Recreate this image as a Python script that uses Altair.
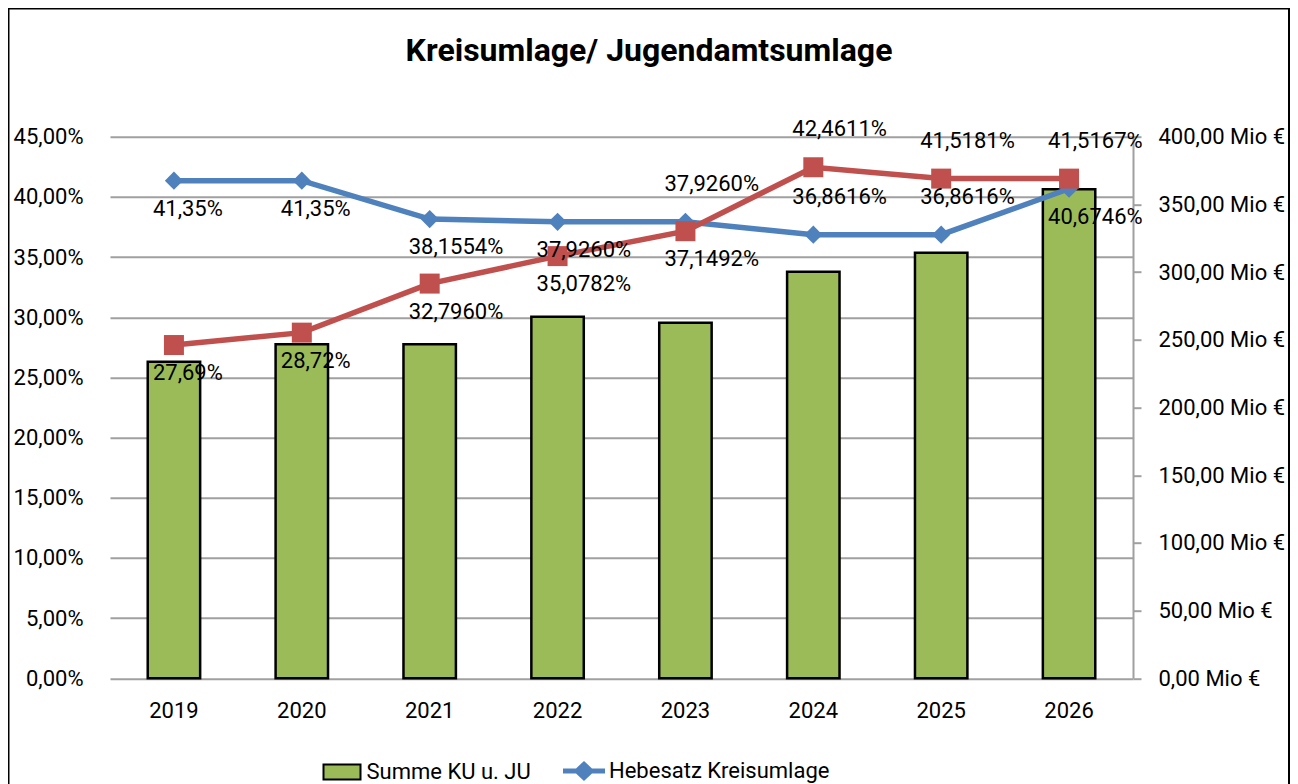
import altair as alt
import pandas as pd

# ---- data ----
years = ["2019", "2020", "2021", "2022", "2023", "2024", "2025", "2026"]
summe_mio = [233.8, 246.7, 246.7, 267.1, 262.6, 300.3, 314.3, 361.2]
hebesatz_ku = [41.35, 41.35, 38.1554, 37.9260, 37.9260, 36.8616, 36.8616, 40.6746]
hebesatz_ju = [27.69, 28.72, 32.7960, 35.0782, 37.1492, 42.4611, 41.5181, 41.5167]
labels_ku = ["41,35%", "41,35%", "38,1554%", "37,9260%", "37,9260%", "36,8616%", "36,8616%", "40,6746%"]
labels_ju = ["27,69%", "28,72%", "32,7960%", "35,0782%", "37,1492%", "42,4611%", "41,5181%", "41,5167%"]
side_ku = ["below", "below", "below", "below", "above", "above", "above", "below"]
side_ju = ["below", "below", "below", "below", "below", "above", "above", "above"]
left_ticks = [0, 5, 10, 15, 20, 25, 30, 35, 40, 45]
right_ticks = [0, 50, 100, 150, 200, 250, 300, 350, 400]

BAR_NAME = "Summe KU u. JU"
KU_NAME = "Hebesatz Kreisumlage"
JU_NAME = "Hebesatz Jugendamtsumlage"

FONT = "Roboto"
BLUE = "#4F81BD"
RED = "#C0504D"
GREEN = "#9BBB59"
GRID = "#A0A0A0"
FS = 22

bars_df = pd.DataFrame({"year": years, "summe": summe_mio, "series": [BAR_NAME] * len(years)})
lines_df = pd.concat([
    pd.DataFrame({"year": years, "value": hebesatz_ku, "series": KU_NAME, "label": labels_ku, "side": side_ku}),
    pd.DataFrame({"year": years, "value": hebesatz_ju, "series": JU_NAME, "label": labels_ju, "side": side_ju}),
], ignore_index=True)

x_enc = alt.X(
    "year:N", sort=years,
    scale=alt.Scale(paddingInner=0, paddingOuter=0),
    axis=alt.Axis(title=None, labelAngle=0, ticks=False, tickSize=0, domain=False, grid=False,
                  labelPadding=22, labelFontSize=FS, labelFont=FONT, labelColor="black"),
)

bars = alt.Chart(bars_df).mark_bar(
    stroke="black", strokeWidth=2.5, width=alt.RelativeBandSize(0.41)
).encode(
    x=x_enc,
    y=alt.Y(
        "summe:Q",
        scale=alt.Scale(domain=[0, 400], nice=False, zero=True),
        axis=alt.Axis(
            orient="right", title=None, values=right_ticks,
            labelExpr="replace(format(datum.value, '.2f'), '.', ',') + ' Mio €'",
            grid=False, domain=True, domainColor=GRID, domainWidth=2,
            ticks=True, tickColor=GRID, tickWidth=2, tickSize=8, labelPadding=17,
            labelFontSize=FS, labelFont=FONT, labelColor="black",
        ),
    ),
    color=alt.Color(
        "series:N",
        scale=alt.Scale(domain=[BAR_NAME], range=[GREEN]),
        legend=alt.Legend(
            title=None, orient="none", legendX=212.5, legendY=615.8, padding=0,
            symbolType="M-1,-0.4L1,-0.4L1,0.4L-1,0.4Z", symbolSize=1369,
            symbolStrokeColor="black", symbolStrokeWidth=2, symbolOpacity=1,
            labelFontSize=FS, labelFont=FONT, labelColor="black", labelOffset=5, labelLimit=500,
        ),
    ),
)

y_left = alt.Y(
    "value:Q",
    scale=alt.Scale(domain=[0, 45], nice=False, zero=True),
    axis=alt.Axis(
        orient="left", title=None, values=left_ticks,
        labelExpr="replace(format(datum.value, '.2f'), '.', ',') + '%'",
        grid=True, gridColor=GRID, gridWidth=2, domain=False, ticks=False, tickSize=0,
        labelPadding=27, labelFontSize=FS, labelFont=FONT, labelColor="black",
    ),
)

# legend entries use domain order KU, JU; the unlabelled style scales use the reverse order
legend_order = [KU_NAME, JU_NAME]
style_order = [JU_NAME, KU_NAME]

lines = alt.Chart(lines_df).mark_line(strokeWidth=5.5).encode(
    x=x_enc,
    y=y_left,
    stroke=alt.Stroke("series:N", scale=alt.Scale(domain=style_order, range=[RED, BLUE]), legend=None),
)

points = alt.Chart(lines_df).mark_point(filled=True, opacity=1, strokeWidth=0).encode(
    x=x_enc,
    y=y_left,
    fill=alt.Fill(
        "series:N",
        scale=alt.Scale(domain=legend_order, range=[BLUE, RED]),
        legend=alt.Legend(
            title=None, orient="none", legendX=453, legendY=613.3, padding=0,
            values=[KU_NAME],
            symbolType="M-1,-0.12L-0.38,-0.12L0,-0.48L0.38,-0.12L1,-0.12L1,0.12L0.38,0.12L0,0.48L-0.38,0.12L-1,0.12Z",
            symbolSize=1764, symbolStrokeWidth=0, symbolOpacity=1,
            labelFontSize=FS, labelFont=FONT, labelColor="black", labelOffset=4, labelLimit=500,
        ),
    ),
    shape=alt.Shape("series:N", scale=alt.Scale(domain=style_order, range=["square", "diamond"]), legend=None),
    size=alt.Size("series:N", scale=alt.Scale(domain=style_order, range=[400, 330]), legend=None),
)

text_below = alt.Chart(lines_df).transform_filter(alt.datum.side == "below").mark_text(
    align="left", baseline="middle", dx=-21, dy=28, fontSize=FS, font=FONT, color="black"
).encode(x=x_enc, y=y_left, text="label:N")

text_above = alt.Chart(lines_df).transform_filter(alt.datum.side == "above").mark_text(
    align="left", baseline="middle", dx=-21, dy=-38, fontSize=FS, font=FONT, color="black"
).encode(x=x_enc, y=y_left, text="label:N")

line_layer = alt.layer(lines, points, text_below, text_above)

frame = alt.Chart(pd.DataFrame({"f": [0]})).mark_rect(
    fill="transparent", stroke="black", strokeWidth=2
).encode(x=alt.value(-101.5), x2=alt.value(1179), y=alt.value(-128.2), y2=alt.value(760))

chart = alt.layer(bars, line_layer, frame).resolve_scale(
    y="independent"
).properties(
    width=1023,
    height=541.6,
    autosize=alt.AutoSizeParams(type="none"),
    padding={"left": 102, "top": 128.7, "right": 157, "bottom": 105.7},
    background="white",
    title=alt.TitleParams(
        "Kreisumlage/ Jugendamtsumlage", font=FONT, fontSize=32, fontWeight="bold",
        color="black", anchor="middle", dx=27.5, offset=0, dy=60,
    ),
).configure_view(stroke=None)

chart.save("out.html", embed_options={"renderer": "svg", "actions": False})
